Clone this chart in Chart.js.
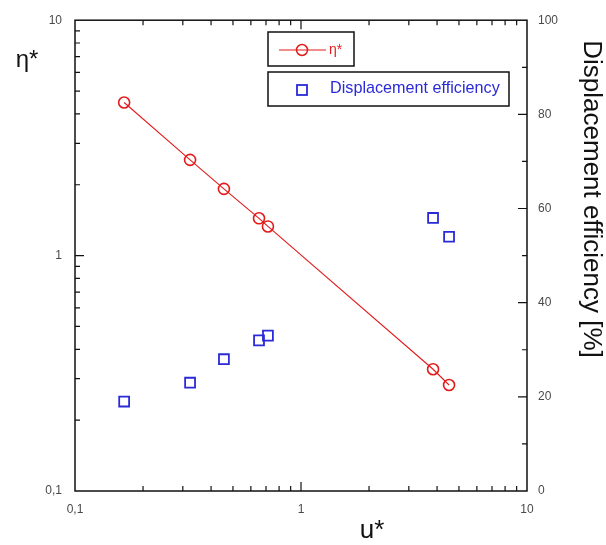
<!DOCTYPE html>
<html>
<head>
<meta charset="utf-8">
<script src="https://cdn.jsdelivr.net/npm/chart.js@4/dist/chart.umd.min.js"></script>
<style>
  html, body { margin: 0; padding: 0; background: #fff; }
  #wrap { width: 606px; height: 545px; position: relative; }
</style>
</head>
<body>
<div id="wrap"><canvas id="c" width="606" height="545"></canvas></div>
<script>
// ---- data ----
const uStar   = [0.165, 0.323, 0.456, 0.652, 0.714, 3.84, 4.52];
const etaStar = [4.47, 2.55, 1.92, 1.44, 1.33, 0.329, 0.282];
const dispEff = [19, 23, 28, 32, 33, 58, 54];
const logTickValues = [0.1, 1, 10];
const effTickStep = 20;
const seriesNames = ['η*', 'Displacement efficiency'];
const axisTitles = { x: 'u*', y: 'η*', y2: 'Displacement efficiency [%]' };

const RED = '#e31b1b';
const BLUE = '#2a2ad8';
const FONT = "'Liberation Sans', Arial, sans-serif";

const fmt = v => String(v).replace('.', ',');

const framePlugin = {
  id: 'frame',
  afterDraw(chart) {
    const ctx = chart.ctx;
    const a = chart.chartArea;
    const xs = chart.scales.x, ys = chart.scales.y, y2 = chart.scales.y2;
    ctx.save();
    ctx.strokeStyle = '#111';
    ctx.lineWidth = 1.5;
    ctx.strokeRect(a.left, a.top, a.right - a.left, a.bottom - a.top);
    ctx.lineWidth = 1.2;
    ctx.beginPath();
    // log ticks
    for (const d of [0.1, 1]) {
      for (let k = 1; k <= 9; k++) {
        const v = +(k * d).toPrecision(3);
        if (v <= 0.1 || v >= 10) continue;
        const len = (k === 1) ? 9 : 5;
        const px = xs.getPixelForValue(v);
        ctx.moveTo(px, a.bottom); ctx.lineTo(px, a.bottom - len);
        ctx.moveTo(px, a.top); ctx.lineTo(px, a.top + len);
        const py = ys.getPixelForValue(v);
        ctx.moveTo(a.left, py); ctx.lineTo(a.left + len, py);
      }
    }
    for (let v = 10; v < 100; v += 10) {
      const len = (v % 20 === 0) ? 9 : 5;
      const py = y2.getPixelForValue(v);
      ctx.moveTo(a.right, py); ctx.lineTo(a.right - len, py);
    }
    ctx.stroke();

    // axis titles
    ctx.fillStyle = '#111';
    ctx.textBaseline = 'middle';
    ctx.textAlign = 'center';
    ctx.font = '24px ' + FONT;
    ctx.fillText(axisTitles.y, 27, 60);
    ctx.font = '26px ' + FONT;
    ctx.fillText(axisTitles.x, 372, 531);
    ctx.save();
    ctx.translate(591, 199);
    ctx.rotate(Math.PI / 2);
    ctx.font = '26px ' + FONT;
    ctx.fillText(axisTitles.y2, 0, 0);
    ctx.restore();

    // legend boxes
    const ds0 = chart.data.datasets[0], ds1 = chart.data.datasets[1];
    ctx.lineWidth = 1.5;
    ctx.strokeStyle = '#111';
    ctx.strokeRect(268, 32, 86, 34);
    ctx.strokeRect(268, 72, 241, 34);
    ctx.strokeStyle = ds0.borderColor;
    ctx.lineWidth = 1.2;
    ctx.beginPath();
    ctx.moveTo(279, 50); ctx.lineTo(326, 50);
    ctx.stroke();
    ctx.lineWidth = 1.5;
    ctx.beginPath();
    ctx.arc(302, 50, 5.5, 0, Math.PI * 2);
    ctx.stroke();
    ctx.fillStyle = ds0.borderColor;
    ctx.textAlign = 'left';
    ctx.font = '14px ' + FONT;
    ctx.fillText(ds0.label, 329, 50);
    ctx.strokeStyle = ds1.borderColor;
    ctx.lineWidth = 1.8;
    ctx.strokeRect(297, 85, 10, 10);
    ctx.fillStyle = ds1.borderColor;
    ctx.font = '16.2px ' + FONT;
    ctx.fillText(ds1.label, 330, 89);
    ctx.restore();
  }
};

const tickFont = { family: FONT, size: 12 };
const tickColor = '#4a4a4a';

new Chart(document.getElementById('c'), {
  type: 'scatter',
  data: {
    datasets: [
      {
        label: seriesNames[0],
        data: uStar.map((u, i) => ({ x: u, y: etaStar[i] })),
        yAxisID: 'y',
        showLine: true,
        borderColor: RED,
        borderWidth: 1.1,
        pointStyle: 'circle',
        pointRadius: 5.5,
        pointBorderWidth: 1.6,
        pointBorderColor: RED,
        pointBackgroundColor: 'rgba(0,0,0,0)',
        tension: 0
      },
      {
        label: seriesNames[1],
        data: uStar.map((u, i) => ({ x: u, y: dispEff[i] })),
        yAxisID: 'y2',
        showLine: false,
        borderColor: BLUE,
        pointStyle: 'rect',
        pointRadius: 7,
        pointBorderWidth: 1.8,
        pointBorderColor: BLUE,
        pointBackgroundColor: 'rgba(0,0,0,0)'
      }
    ]
  },
  options: {
    responsive: false,
    animation: false,
    devicePixelRatio: 1,
    layout: { padding: { top: 16, left: 0, right: 0, bottom: 0 } },
    plugins: { legend: { display: false }, tooltip: { enabled: false } },
    scales: {
      x: {
        type: 'logarithmic', position: 'bottom', min: 0.1, max: 10,
        afterBuildTicks: s => { s.ticks = logTickValues.map(v => ({ value: v })); },
        afterFit: s => { s.height = 54; },
        grid: { display: false, drawTicks: false },
        border: { display: false },
        ticks: { padding: 11, color: tickColor, font: tickFont, callback: v => fmt(v), maxRotation: 0, autoSkip: false }
      },
      y: {
        type: 'logarithmic', position: 'left', min: 0.1, max: 10,
        afterBuildTicks: s => { s.ticks = logTickValues.map(v => ({ value: v })); },
        afterFit: s => { s.width = 75; },
        grid: { display: false, drawTicks: false },
        border: { display: false },
        ticks: { padding: 13, color: tickColor, font: tickFont, callback: v => fmt(v), autoSkip: false }
      },
      y2: {
        type: 'linear', position: 'right', min: 0, max: 100,
        afterFit: s => { s.width = 79; },
        grid: { display: false, drawTicks: false },
        border: { display: false },
        ticks: { stepSize: effTickStep, padding: 11, color: tickColor, font: tickFont }
      }
    }
  },
  plugins: [framePlugin]
});
</script>
</body>
</html>
